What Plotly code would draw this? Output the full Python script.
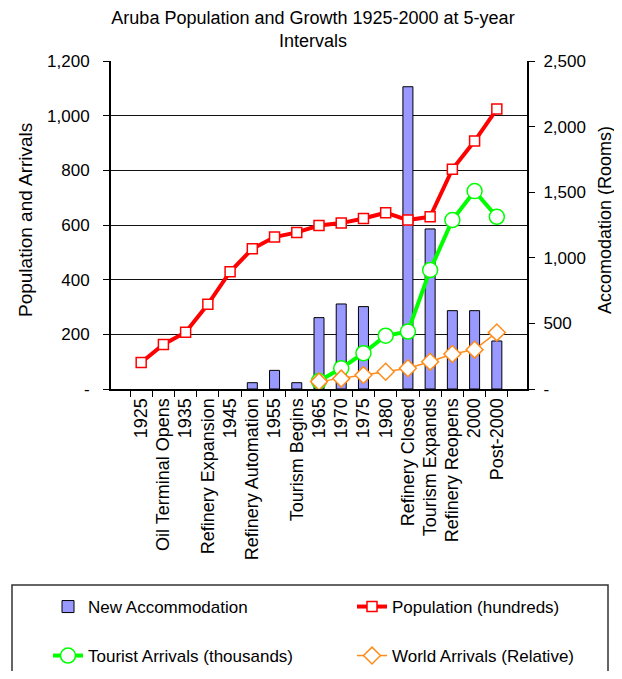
import plotly.graph_objects as go

categories = ["1925", "Oil Terminal Opens", "1935", "Refinery Expansion", "1945",
              "Refinery Automation", "1955", "Tourism Begins", "1965", "1970", "1975",
              "1980", "Refinery Closed", "Tourism Expands", "Refinery Reopens", "2000",
              "Post-2000"]

population_hundreds = [97, 163, 208, 310, 429, 513, 556, 573, 598, 607, 624, 645,
                       618, 630, 804, 907, 1024]
tourist_thousands = [None, None, None, None, None, None, None, None,
                     29, 76, 131, 195, 210, 435, 618, 724, 630]
world_relative = [None, None, None, None, None, None, None, None,
                  27, 38, 51, 63, 76, 100, 128, 144, 207]
new_accommodation = [None, None, None, None, None, 48, 142, 48, 544, 648, 628, None,
                     2304, 1220, 597, 597, 366]

left_ticks = [0, 200, 400, 600, 800, 1000, 1200]
left_ticktext = ["-", "200", "400", "600", "800", "1,000", "1,200"]
right_ticks = [0, 500, 1000, 1500, 2000, 2500]
right_ticktext = ["-", "500", "1,000", "1,500", "2,000", "2,500"]

FONT = "Liberation Sans, Arial, sans-serif"
OFF = 8  # page body margin offset
W, H = 622 - OFF, 679 - 2 * OFF
L, T = 111 - OFF, 61 - OFF
PLOT_RIGHT, PLOT_BOTTOM = 527 - OFF, 389 - OFF
R, B = W - PLOT_RIGHT, H - PLOT_BOTTOM
PH = PLOT_BOTTOM - T
PW = PLOT_RIGHT - L


def py(Y):
    return (PLOT_BOTTOM - (Y - OFF)) / PH


def px(X):
    return ((X - OFF) - L) / PW


fig = go.Figure()

fig.add_trace(go.Bar(
    x=categories, y=new_accommodation, name="New Accommodation",
    marker=dict(color="#9999FF", line=dict(color="black", width=1)),
    width=0.45, yaxis="y", legend="legend"))

fig.add_trace(go.Scatter(
    x=categories, y=population_hundreds, name="Population (hundreds)",
    mode="lines+markers", yaxis="y2", legend="legend2",
    line=dict(color="#FF0000", width=4),
    marker=dict(symbol="square", size=10, color="white",
                line=dict(color="#FF0000", width=1.5))))

fig.add_trace(go.Scatter(
    x=categories, y=tourist_thousands, name="Tourist Arrivals (thousands)",
    mode="lines+markers", yaxis="y2", legend="legend3",
    line=dict(color="#00FF00", width=4),
    marker=dict(symbol="circle", size=15, color="white",
                line=dict(color="#00FF00", width=1.5))))

fig.add_trace(go.Scatter(
    x=categories, y=world_relative, name="World Arrivals (Relative)",
    mode="lines+markers", yaxis="y2", legend="legend4",
    line=dict(color="#FF8C1A", width=1.5),
    marker=dict(symbol="diamond", size=13, color="white",
                line=dict(color="#FF8C1A", width=1.5))))

fig.add_shape(type="rect", xref="paper", yref="paper",
              x0=px(12), x1=px(608), y0=py(585), y1=py(700),
              line=dict(color="#333333", width=1.5), fillcolor="rgba(0,0,0,0)")

fig.add_annotation(text="Population and Arrivals", xref="paper", yref="paper",
                   x=px(25), y=py(220), textangle=-90, showarrow=False,
                   xanchor="center", yanchor="middle", font=dict(size=19))
fig.add_annotation(text="Accomodation (Rooms)", xref="paper", yref="paper",
                   x=px(605), y=py(220), textangle=-90, showarrow=False,
                   xanchor="center", yanchor="middle", font=dict(size=18))


def legend_at(text_x, center_y):
    return dict(orientation="v", xref="container", yref="container",
                x=(text_x - OFF - 40) / W, y=1 - (center_y - OFF) / H,
                xanchor="left", yanchor="middle",
                bgcolor="rgba(0,0,0,0)", borderwidth=0,
                font=dict(size=17))


fig.update_layout(
    width=W, height=H,
    margin=dict(l=L, r=R, t=T, b=B, autoexpand=False),
    paper_bgcolor="white", plot_bgcolor="white",
    font=dict(family=FONT, size=17, color="black"),
    title=dict(text="Aruba Population and Growth 1925-2000 at 5-year<br>Intervals",
               x=(313 - OFF) / W, xanchor="center", y=1 - 16 / H, yanchor="top",
               font=dict(size=18)),
    xaxis=dict(type="category", tickangle=-90, tickson="boundaries",
               ticks="outside", ticklen=6, tickcolor="black",
               showline=True, linecolor="black", linewidth=2,
               showgrid=False, automargin=False, tickfont=dict(size=18)),
    yaxis=dict(side="right", range=[0, 2500], tickvals=right_ticks,
               ticktext=right_ticktext, showgrid=False, zeroline=False,
               ticks="outside", ticklen=6, tickcolor="black",
               showline=True, linecolor="black", linewidth=2,
               automargin=False, ticklabelstandoff=5),
    yaxis2=dict(side="left", overlaying="y", anchor="x", range=[0, 1200],
                tickvals=left_ticks, ticktext=left_ticktext,
                showgrid=True, gridcolor="#111111", gridwidth=1, zeroline=False,
                ticks="outside", ticklen=6, tickcolor="black",
                showline=True, linecolor="black", linewidth=2,
                automargin=False, ticklabelstandoff=10),
    legend=legend_at(88, 607),
    legend2=legend_at(392, 607),
    legend3=legend_at(88, 656),
    legend4=legend_at(392, 656),
    showlegend=True,
)

fig.write_html("out.html")
